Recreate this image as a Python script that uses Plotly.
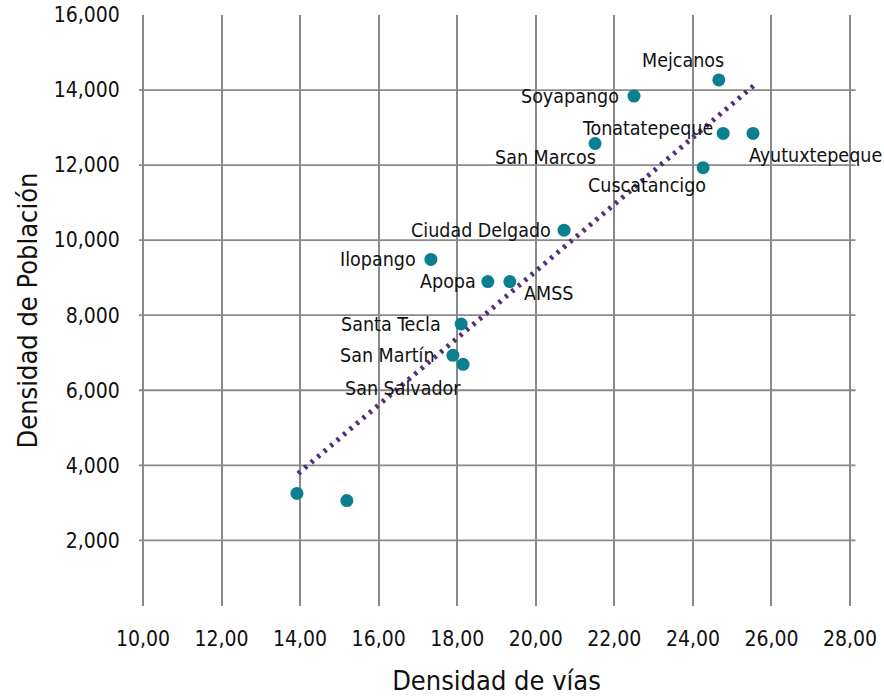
import plotly.graph_objects as go

# Data
municipios = ["Mejcanos", "Soyapango", "Tonatatepeque", "Ayutuxtepeque", "San Marcos",
              "Cuscatancigo", "Ciudad Delgado", "Ilopango", "Apopa", "AMSS",
              "Santa Tecla", "San Martín", "San Salvador", "", ""]
densidad_vias = [24.66, 22.50, 24.77, 25.53, 21.51, 24.26, 20.72, 17.33, 18.78, 19.34,
                 18.10, 17.89, 18.15, 13.92, 15.19]
densidad_poblacion = [14270, 13840, 12845, 12845, 12575, 11930, 10265, 9485, 8895, 8895,
                      7765, 6930, 6690, 3250, 3060]
tendencia_x = [13.95, 25.63]
tendencia_y = [3780, 14190]

x_ticks = [10, 12, 14, 16, 18, 20, 22, 24, 26, 28]
x_tick_labels = ["10,00", "12,00", "14,00", "16,00", "18,00", "20,00", "22,00", "24,00", "26,00", "28,00"]
y_ticks = [2000, 4000, 6000, 8000, 10000, 12000, 14000, 16000]
y_tick_labels = ["2,000", "4,000", "6,000", "8,000", "10,000", "12,000", "14,000", "16,000"]
y_grid = [2000, 4000, 6000, 8000, 10000, 12000, 14000]

# label offsets (pixels): xanchor, xshift, yshift
label_pos = {
    "Mejcanos": ("center", -36, 19),
    "Soyapango": ("right", -13, 0),
    "Tonatatepeque": ("right", -8, 5),
    "Ayutuxtepeque": ("left", -6, -22),
    "San Marcos": ("right", 3, -14),
    "Cuscatancigo": ("right", 5, -18),
    "Ciudad Delgado": ("right", -11, 0),
    "Ilopango": ("right", -13, 0),
    "Apopa": ("right", -10, 0),
    "AMSS": ("left", 12, -12),
    "Santa Tecla": ("right", -18, 0),
    "San Martín": ("right", -16, 0),
    "San Salvador": ("right", 0, -24),
}

FONT = "DejaVu Sans Condensed, Roboto, sans-serif"
GRID = "#8a8a8a"

fig = go.Figure()
fig.add_trace(go.Scatter(
    x=tendencia_x, y=tendencia_y, mode="lines",
    line=dict(color="#52307c", width=5, dash="3px,5.5px"),
    hoverinfo="skip", showlegend=False))
fig.add_trace(go.Scatter(
    x=densidad_vias, y=densidad_poblacion, mode="markers",
    marker=dict(color="#0a7f8f", size=13),
    text=municipios, showlegend=False))

for name, xv, yv in zip(municipios, densidad_vias, densidad_poblacion):
    if not name:
        continue
    anchor, xs, ys = label_pos[name]
    fig.add_annotation(x=xv, y=yv, text=name, showarrow=False,
                       xanchor=anchor, yanchor="middle", xshift=xs, yshift=ys,
                       font=dict(family=FONT, size=19.5, color="#111111"))

for g in y_grid:
    fig.add_shape(type="line", xref="paper", yref="y", x0=-0.003, x1=1.005, y0=g, y1=g,
                  line=dict(color=GRID, width=1.8), layer="below")

fig.update_layout(
    width=884, height=696,
    margin=dict(l=141, r=32, t=15, b=90),
    paper_bgcolor="white", plot_bgcolor="white",
    font=dict(family=FONT, color="#111111"),
    xaxis=dict(range=[9.95, 28.05], tickvals=x_ticks, ticktext=x_tick_labels,
               showgrid=True, gridcolor=GRID, gridwidth=1.8, zeroline=False,
               showline=False, ticks="outside", ticklen=14, tickcolor="rgba(0,0,0,0)",
               tickfont=dict(size=21, family=FONT), automargin=False,
               title=dict(text="Densidad de vías", font=dict(size=27, family=FONT), standoff=20)),
    yaxis=dict(range=[250, 16000], tickvals=y_ticks, ticktext=y_tick_labels,
               showgrid=False, zeroline=False, showline=False,
               ticks="outside", ticklen=16, tickcolor="rgba(0,0,0,0)",
               tickfont=dict(size=21, family=FONT), automargin=False,
               title=dict(text="Densidad de Población", font=dict(size=27, family=FONT), standoff=8)),
)

fig.write_html("out.html", config={"displayModeBar": False},
               post_script="document.body.style.margin='0';")
